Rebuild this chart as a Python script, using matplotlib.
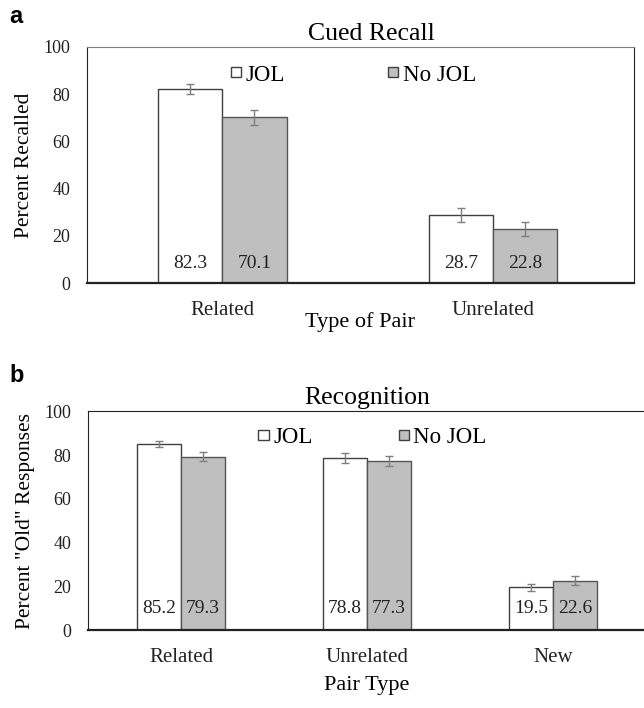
import matplotlib
matplotlib.use("Agg")
import matplotlib.pyplot as plt
from matplotlib.patches import Patch
import numpy as np

# Panel a: cued recall
recall_pairs = ["Related", "Unrelated"]
recall_jol = [82.3, 28.7]
recall_nojol = [70.1, 22.8]
recall_jol_err = [2.1, 3.0]
recall_nojol_err = [3.0, 3.0]

# Panel b: recognition
recog_pairs = ["Related", "Unrelated", "New"]
recog_jol = [85.2, 78.8, 19.5]
recog_nojol = [79.3, 77.3, 22.6]
recog_jol_err = [1.4, 2.2, 1.8]
recog_nojol_err = [2.0, 2.3, 2.0]

plt.rcParams['font.family'] = ['Liberation Serif', 'DejaVu Serif']

WHITE = "white"
GREY = "#bfbfbf"
ERR = "#7f7f7f"


def draw_panel(ax, cats, jol, nojol, jol_err, nojol_err, width, xmax, txt_y,
               leg_x, colsp):
    x = np.arange(len(cats))
    ax.bar(x - width / 2, jol, width, color=WHITE, edgecolor="#404040", linewidth=1)
    ax.bar(x + width / 2, nojol, width, color=GREY, edgecolor="#555555", linewidth=1)
    ax.errorbar(x - width / 2, jol, yerr=jol_err, fmt="none", ecolor=ERR,
                elinewidth=1, capsize=3, capthick=1)
    ax.errorbar(x + width / 2, nojol, yerr=nojol_err, fmt="none", ecolor=ERR,
                elinewidth=1, capsize=3, capthick=1)

    # value labels inside bars
    for xi, v in zip(x - width / 2, jol):
        ax.text(xi, txt_y, f"{v:.1f}", ha="center", va="center", fontsize=14, color="#222222")
    for xi, v in zip(x + width / 2, nojol):
        ax.text(xi, txt_y, f"{v:.1f}", ha="center", va="center", fontsize=14, color="#222222")

    ax.set_xlim(-0.5, xmax)
    ax.set_ylim(0, 100)
    ax.set_yticks(range(0, 101, 20))
    ax.set_xticks(x)
    ax.set_xticklabels(cats, fontsize=15)
    ax.tick_params(axis="both", length=0, colors="#222222")
    ax.tick_params(axis="y", pad=12, labelsize=13)
    ax.tick_params(axis="x", pad=13)

    handles = [Patch(facecolor=WHITE, edgecolor="#404040", label="JOL"),
               Patch(facecolor=GREY, edgecolor="#404040", label="No JOL")]
    ax.legend(handles=handles, loc="center left", bbox_to_anchor=(leg_x, 0.88),
              ncol=2, frameon=False, fontsize=16.5, handlelength=0.45,
              handleheight=0.3, handletextpad=0.2, columnspacing=colsp,
              borderpad=0, borderaxespad=0)


fig = plt.figure(figsize=(6.44, 7.08), dpi=100)

# ---- panel a ----
ax1 = fig.add_axes([0.135, 0.600, 0.849, 0.334])
draw_panel(ax1, recall_pairs, recall_jol, recall_nojol, recall_jol_err,
           recall_nojol_err, 0.238, 1.52, 8.5, 0.263, 4.5)
ax1.set_title("Cued Recall", fontsize=18.5, pad=5, x=0.52)
ax1.set_ylabel("Percent Recalled", fontsize=15.5, labelpad=7)
ax1.set_xlabel("Type of Pair", fontsize=16, labelpad=-6)
ax1.spines["top"].set_color("#808080")
ax1.spines["right"].set_color("#222222")
ax1.spines["left"].set_color("#222222")
ax1.spines["bottom"].set_linewidth(1.6)
ax1.spines["bottom"].set_color("#222222")

# ---- panel b ----
ax2 = fig.add_axes([0.137, 0.110, 0.866, 0.309])
draw_panel(ax2, recog_pairs, recog_jol, recog_nojol, recog_jol_err,
           recog_nojol_err, 0.237, 2.5, 10, 0.305, 3.75)
ax2.set_title("Recognition", fontsize=18.5, pad=5)
ax2.set_ylabel('Percent "Old" Responses', fontsize=15.5, labelpad=7)
ax2.set_xlabel("Pair Type", fontsize=16, labelpad=6)
ax2.spines["top"].set_color("#222222")
ax2.spines["left"].set_color("#222222")
ax2.spines["right"].set_visible(False)
ax2.spines["bottom"].set_linewidth(1.6)
ax2.spines["bottom"].set_color("#222222")

# panel letters
fig.text(0.014, 0.977, "a", fontsize=17, fontweight="bold", family="Liberation Sans",
         ha="left", va="center")
fig.text(0.014, 0.469, "b", fontsize=17, fontweight="bold", family="Liberation Sans",
         ha="left", va="center")

fig.savefig("out.png", dpi=100)
